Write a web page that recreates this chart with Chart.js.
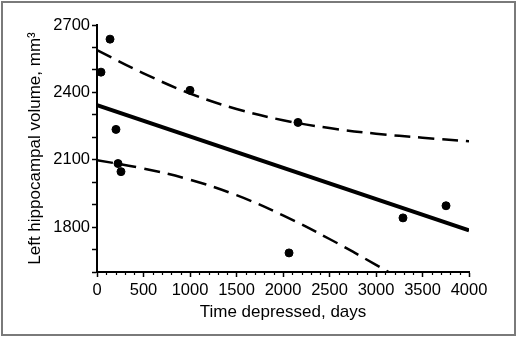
<!DOCTYPE html>
<html>
<head>
<meta charset="utf-8">
<script src="https://cdn.jsdelivr.net/npm/chart.js@4/dist/chart.umd.min.js"></script>
<style>
  html, body { margin: 0; padding: 0; background: #fff; }
  #wrap { width: 519px; height: 339px; }
</style>
</head>
<body>
<div id="wrap"><canvas id="hippoChart" width="519" height="339"></canvas></div>
<script>
// patients: days depressed vs left hippocampal volume
var days = [43, 140, 204, 226, 258, 1000, 2065, 2161, 3290, 3753];
var volume = [2490, 2637, 2235, 2083, 2047, 2409, 1685, 2266, 1841, 1895];

// regression line
var fitDays = [0, 4000];
var fitVolume = [2343, 1785];

// 95% confidence band
var bandDays = [0, 500, 1000, 1500, 2000, 2500, 3000, 3500, 4000];
var upperBand = [2588, 2485, 2395, 2326, 2276, 2241, 2216, 2198, 2182];
var lowerBand = [2098, 2061, 2011, 1942, 1852, 1747, 1632, 1512];

function pairs(xs, ys) {
  var out = [];
  for (var i = 0; i < ys.length; i++) out.push({x: xs[i], y: ys[i]});
  return out;
}

Chart.defaults.font.family = "'Liberation Sans', Arial, sans-serif";
Chart.defaults.color = '#000';

// grey frame around the figure + small x minor ticks every 100 days
var frame = {
  id: 'frame',
  afterDraw: function (chart) {
    var ctx = chart.ctx;
    var xs = chart.scales.x;
    var bottom = chart.chartArea.bottom;
    ctx.save();
    ctx.strokeStyle = '#000';
    ctx.lineWidth = 1.2;
    for (var v = 100; v < 4000; v += 100) {
      if (v % 500 === 0) continue;
      var px = Math.round(xs.getPixelForValue(v)) + 0.5;
      ctx.beginPath();
      ctx.moveTo(px, bottom);
      ctx.lineTo(px, bottom + 3);
      ctx.stroke();
    }
    ctx.strokeStyle = '#7a7a7a';
    ctx.lineWidth = 2;
    ctx.strokeRect(2, 2, 513, 333);
    ctx.restore();
  }
};

new Chart('hippoChart', {
  type: 'scatter',
  data: {
    datasets: [
      {
        data: pairs(days, volume),
        backgroundColor: '#000',
        borderColor: '#000',
        pointRadius: 4,
        clip: false
      },
      {
        type: 'line',
        data: pairs(fitDays, fitVolume),
        borderColor: '#000',
        borderWidth: 4,
        pointRadius: 0,
        fill: false
      },
      {
        type: 'line',
        data: pairs(bandDays, upperBand),
        borderColor: '#000',
        borderWidth: 2.5,
        borderDash: [16, 8],
        pointRadius: 0,
        tension: 0.4,
        fill: false
      },
      {
        type: 'line',
        data: pairs(bandDays, lowerBand),
        borderColor: '#000',
        borderWidth: 2.5,
        borderDash: [16, 8],
        pointRadius: 0,
        tension: 0.4,
        fill: false,
        clip: 0
      }
    ]
  },
  options: {
    responsive: false,
    animation: false,
    events: [],
    layout: { padding: { left: 4, top: 25, right: 50, bottom: 0 } },
    plugins: { legend: { display: false }, tooltip: { enabled: false } },
    scales: {
      x: {
        type: 'linear',
        min: 0,
        max: 4000,
        afterFit: function (scale) { scale.height = 67; },
        border: { display: true, color: '#000', width: 2 },
        grid: { drawOnChartArea: false, tickLength: 5, tickWidth: 1.5, tickColor: '#000' },
        ticks: {
          stepSize: 500,
          maxRotation: 0,
          autoSkip: false,
          padding: 4,
          font: { size: 16.5 },
          callback: function (v) { return String(v); }
        },
        title: {
          display: true,
          text: 'Time depressed, days',
          font: { size: 17 },
          padding: { top: 0, bottom: 16 }
        }
      },
      y: {
        min: 1600,
        max: 2700,
        afterFit: function (scale) { scale.width = 93; },
        border: { display: true, color: '#000', width: 2 },
        grid: { drawOnChartArea: false, tickLength: 5, tickWidth: 1.5, tickColor: '#000' },
        ticks: {
          stepSize: 100,
          autoSkip: false,
          padding: 2,
          font: { size: 16.5 },
          callback: function (v) { return v % 300 === 0 ? String(v) : ''; }
        },
        title: {
          display: true,
          text: 'Left hippocampal volume, mm³',
          font: { size: 17 },
          padding: { top: 21, bottom: 0 }
        }
      }
    }
  },
  plugins: [frame]
});
</script>
</body>
</html>
